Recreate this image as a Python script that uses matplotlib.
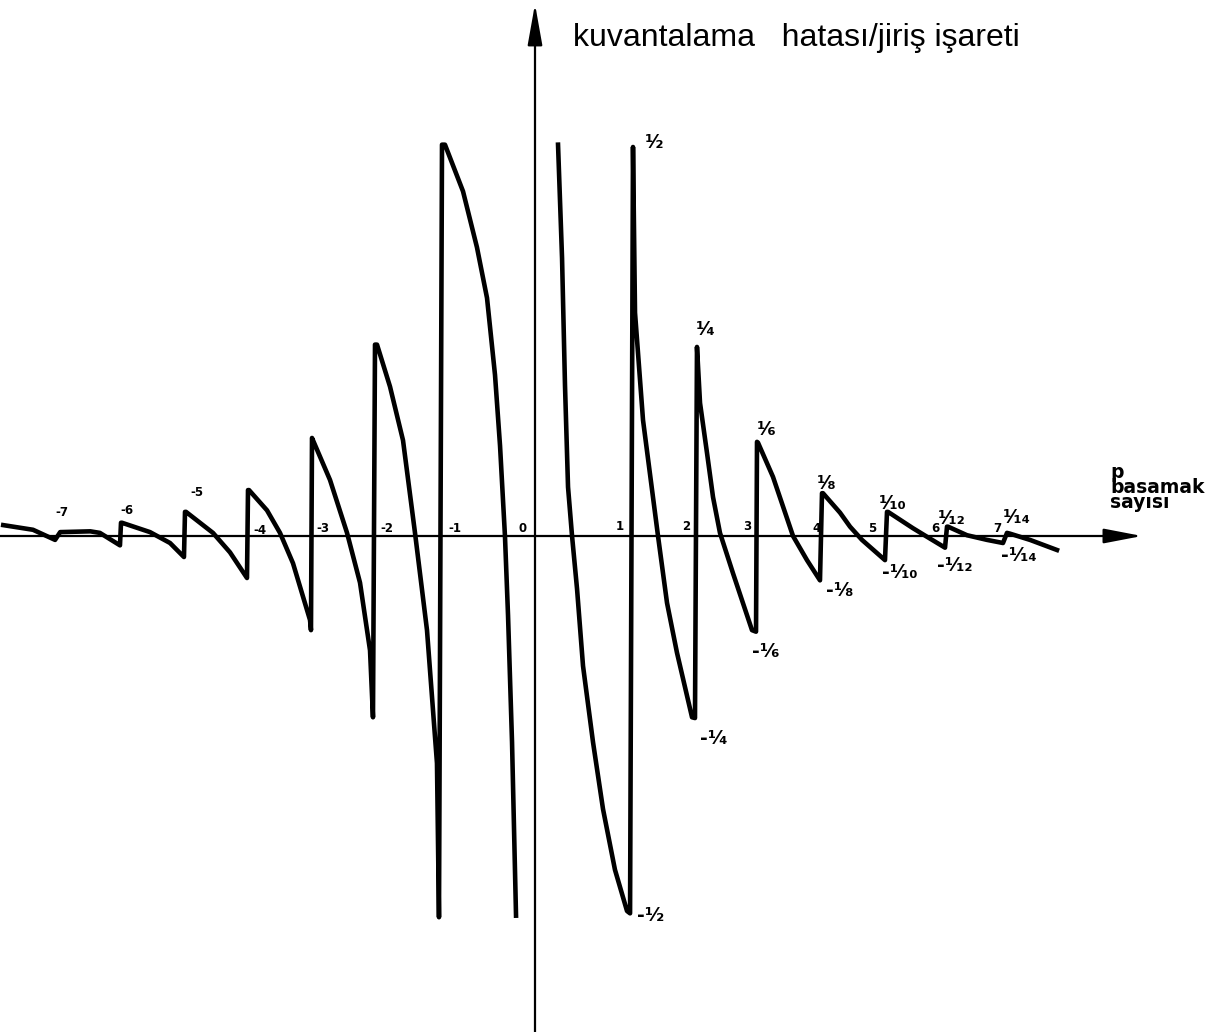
import numpy as np
import matplotlib
matplotlib.use("Agg")
import matplotlib.pyplot as plt

# hand drawn p axis: the unit between -1 and 1 is drawn wider than the others
axis_p = [-9, -8, -7, -6, -5, -4, -3, -2, -1, 0, 1, 2, 3, 4, 5, 6, 7, 8, 9, 10, 11]
axis_px = [-71, -7, 57, 121, 185, 248, 312, 375, 442, 535, 633, 696, 757, 822,
           887, 947, 1007, 1067, 1127, 1187, 1247]

# error / input ratio (negative p side)
left_p = [-7.84, -7.375, -7.03, -6.95, -6.48, -6.33, -6.016, -6.0, -5.984, -5.547,
          -5.234, -5.016, -5.0, -4.984, -4.556, -4.286, -4.016, -4.0, -3.984, -3.703,
          -3.5, -3.297, -3.031, -3.016, -3.0, -2.984, -2.714, -2.444, -2.238, -2.079,
          -2.032, -2.0, -1.97, -1.776, -1.582, -1.403, -1.224, -1.075, -1.045, -1.0,
          -0.968, -0.774, -0.624, -0.516, -0.430, -0.376, -0.323, -0.290, -0.247, -0.204]
left_e = [0.014, 0.008, -0.005, 0.005, 0.006, 0.004, -0.012, 0.017, 0.017, 0.005,
          -0.009, -0.027, 0.031, 0.031, 0.004, -0.021, -0.054, 0.059, 0.059, 0.033,
          0.004, -0.035, -0.108, -0.121, 0.126, 0.123, 0.072, 0.004, -0.060, -0.147,
          -0.233, 0.246, 0.246, 0.192, 0.123, 0.004, -0.121, -0.292, -0.490, 0.503,
          0.503, 0.443, 0.371, 0.306, 0.207, 0.116, 0.0, -0.102, -0.265, -0.488]

# positive p side
right_p = [0.235, 0.276, 0.306, 0.337, 0.378, 0.429, 0.490, 0.592, 0.694, 0.816,
           0.939, 0.97, 1.0, 1.032, 1.159, 1.397, 1.540, 1.698, 1.937, 1.984,
           2.016, 2.066, 2.180, 2.279, 2.393, 2.607, 2.918, 2.984, 3.0, 3.015,
           3.246, 3.554, 3.769, 3.969, 4.0, 4.015, 4.277, 4.431, 4.615, 4.969,
           5.0, 5.017, 5.433, 5.667, 5.967, 6.0, 6.017, 6.333, 6.667, 6.933,
           7.0, 7.05, 7.383, 7.833]
right_e = [0.503, 0.357, 0.194, 0.063, 0.0, -0.068, -0.167, -0.265, -0.351, -0.429,
           -0.482, -0.485, 0.500, 0.287, 0.149, 0.0, -0.086, -0.150, -0.233, -0.234,
           0.243, 0.171, 0.107, 0.050, 0.004, -0.048, -0.121, -0.123, 0.121, 0.120,
           0.076, 0.0, -0.031, -0.057, 0.055, 0.055, 0.030, 0.012, -0.005, -0.031,
           0.031, 0.031, 0.010, -0.001, -0.015, 0.012, 0.012, 0.001, -0.005, -0.009,
           0.004, 0.003, -0.005, -0.018]

# jumps at the integer steps and their labels
jump_p = [1, 2, 3, 4, 5, 6, 7]
jump_top = [0.500, 0.243, 0.121, 0.055, 0.031, 0.012, 0.004]
jump_bottom = [-0.485, -0.234, -0.123, -0.057, -0.031, -0.015, -0.009]
top_labels = ['¹⁄₂', '¹⁄₄', '¹⁄₆', '¹⁄₈', '¹⁄₁₀', '¹⁄₁₂', '¹⁄₁₄']
bottom_labels = ['-¹⁄₂', '-¹⁄₄', '-¹⁄₆', '-¹⁄₈', '-¹⁄₁₀', '-¹⁄₁₂', '-¹⁄₁₄']

tick_p = [-7, -6, -5, -4, -3, -2, -1, 0, 1, 2, 3, 4, 5, 6, 7]
tick_labels = ['-7', '-6', '-5', '-4', '-3', '-2', '-1', '0', '1', '2', '3', '4', '5', '6', '7']

# label offsets in pixels
top_off = [(22, 4), (10, 17), (10, 12), (5, 10), (6, 8), (5, 8), (10, 15)]
bottom_off = [(18, -2), (18, -20), (9, -20), (18, -10), (13, -12), (8, -18), (12, -12)]
tick_off = [(5, 23), (6, 25), (12, 43), (12, 6), (11, 8), (12, 8), (13, 8), (-12, 8),
            (-13, 9), (-10, 9), (-10, 9), (-5, 8), (-15, 8), (-12, 8), (-10, 8)]


def fwd(x):
    return np.interp(x, axis_p, axis_px)


def inv(px):
    return np.interp(px, axis_px, axis_p)


fig = plt.figure(figsize=(12.17, 10.32), dpi=100)
ax = fig.add_axes([0, 0, 1, 1])
ax.set_xscale('function', functions=(fwd, inv))
ax.set_xlim(inv(0), inv(1217))
ax.set_ylim(-496 / 778, 536 / 778)
ax.axis('off')

# axes with arrows
ax.annotate('', xy=(1142 / 1217, 0), xytext=(0, 0),
            xycoords=('axes fraction', 'data'), textcoords=('axes fraction', 'data'),
            arrowprops=dict(arrowstyle='-|>,head_length=1.3,head_width=0.25',
                            lw=1.6, color='black', mutation_scale=18, shrinkA=0, shrinkB=0))
ax.annotate('', xy=(0, 1 - 4 / 1032), xytext=(0, 0),
            xycoords=('data', 'axes fraction'), textcoords=('data', 'axes fraction'),
            arrowprops=dict(arrowstyle='-|>,head_length=1.4,head_width=0.25',
                            lw=1.6, color='black', mutation_scale=18, shrinkA=0, shrinkB=0))

ax.plot(left_p, left_e, color='black', lw=3.3, solid_joinstyle='round')
ax.plot(right_p, right_e, color='black', lw=3.3, solid_joinstyle='round')

for p, lab, off in zip(tick_p, tick_labels, tick_off):
    ax.annotate(lab, xy=(p, 0), xytext=off, textcoords='offset pixels',
                ha='center', va='center', fontsize=8.5, fontweight='bold')

for p, e, lab, off in zip(jump_p, jump_top, top_labels, top_off):
    ax.annotate(lab, xy=(p, e), xytext=off, textcoords='offset pixels',
                ha='center', va='center', fontsize=13.5, fontweight='bold')

for p, e, lab, off in zip(jump_p, jump_bottom, bottom_labels, bottom_off):
    ax.annotate(lab, xy=(p, e), xytext=off, textcoords='offset pixels',
                ha='center', va='center', fontsize=13.5, fontweight='bold')

fig.text(573 / 1217, 1 - 38 / 1032, 'kuvantalama   hatası/jiriş işareti',
         family='Liberation Sans', fontsize=23, ha='left', va='center')
fig.text(1110 / 1217, 1 - 463 / 1032, 'p\nbasamak\nsayısı',
         family='DejaVu Sans', fontsize=13.5, fontweight='heavy',
         ha='left', va='top', linespacing=0.75)

fig.savefig('out.png', dpi=100)
